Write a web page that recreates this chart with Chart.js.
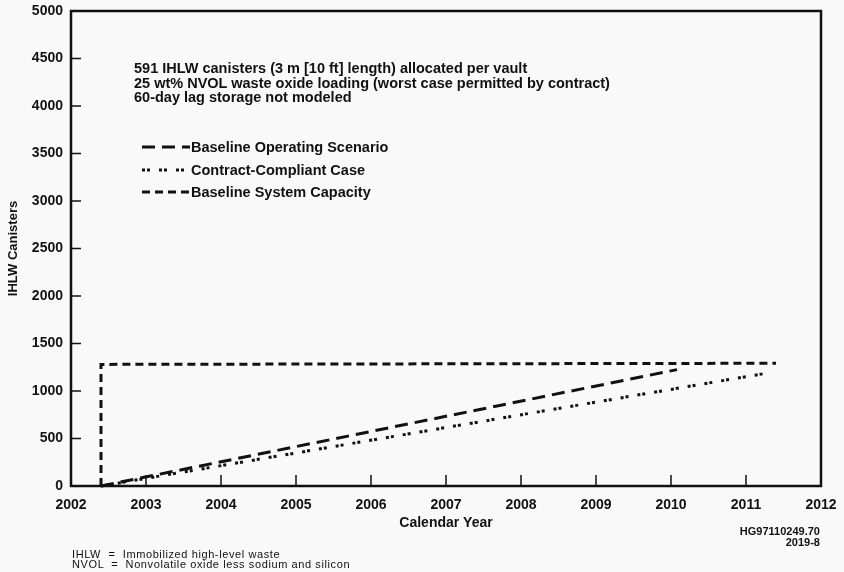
<!DOCTYPE html>
<html>
<head>
<meta charset="utf-8">
<title>IHLW Canisters vs Calendar Year</title>
<script src="https://cdn.jsdelivr.net/npm/chart.js@4.4.1/dist/chart.umd.min.js"></script>
<style>
  body { margin: 0; background: #f9f9f9; }
  #wrap { position: relative; width: 844px; height: 572px; font-family: 'Liberation Sans', Arial, sans-serif; color: #111; }
  #chart { position: absolute; left: 0; top: 0; }
  .notes { position: absolute; left: 134px; top: 61px; font-weight: bold; font-size: 14.5px; line-height: 14.5px; white-space: nowrap; }
  .legend { position: absolute; left: 142px; top: 136px; font-weight: bold; font-size: 14.5px; }
  .legend div { height: 22.5px; display: flex; align-items: center; white-space: nowrap; }
  .legend svg { width: 48px; height: 6px; margin-right: 1px; }
  .ref { position: absolute; right: 24px; top: 526px; font-weight: bold; font-size: 11px; line-height: 11px; text-align: right; }
  .abbr { position: absolute; left: 72px; top: 550px; font-size: 11px; letter-spacing: 0.6px; line-height: 9.5px; white-space: pre; }
</style>
</head>
<body>
<div id="wrap">
  <canvas id="chart" width="844" height="572"></canvas>

  <div class="notes">
    591 IHLW canisters (3 m [10 ft] length) allocated per vault<br>
    25 wt% NVOL waste oxide loading (worst case permitted by contract)<br>
    60-day lag storage not modeled
  </div>

  <div class="legend" id="legend"></div>

  <div class="ref">HG97110249.70<br>2019-8</div>

  <div class="abbr">IHLW  =  Immobilized high-level waste
NVOL  =  Nonvolatile oxide less sodium and silicon</div>
</div>

<script>
// --- Data ---

const xTickYears = [2002, 2003, 2004, 2005, 2006, 2007, 2008, 2009, 2010, 2011, 2012];
const yTickValues = [0, 500, 1000, 1500, 2000, 2500, 3000, 3500, 4000, 4500, 5000];

const operatingYears = [2002.4, 2010.08];
const operatingCanisters = [0, 1225];

const compliantYears = [2002.4, 2011.33];
const compliantCanisters = [0, 1195];

const capacityYears = [2002.4, 2002.4, 2011.4];
const capacityCanisters = [0, 1280, 1292];

const seriesNames = ['Baseline Operating Scenario', 'Contract-Compliant Case', 'Baseline System Capacity'];
const seriesDashes = [[13, 7], [3, 2, 3, 9], [8, 5]];

const INK = '#111';

function toPoints(xs, ys) {
    return xs.map((x, i) => ({ x: x, y: ys[i] }));
}

// --- Frame and inward tick marks ---

const frameAndTicks = {
    id: 'frameAndTicks',
    afterDatasetsDraw(chart) {
        const { ctx, chartArea: a, scales: { x, y } } = chart;
        ctx.save();
        ctx.strokeStyle = INK;
        ctx.lineWidth = 1.5;
        ctx.beginPath();
        x.ticks.forEach(t => {
            if (t.value <= x.min || t.value >= x.max) return;
            const px = x.getPixelForValue(t.value);
            ctx.moveTo(px, a.bottom);
            ctx.lineTo(px, a.bottom - 11);
        });
        y.ticks.forEach(t => {
            if (t.value <= y.min || t.value >= y.max) return;
            const py = y.getPixelForValue(t.value);
            ctx.moveTo(a.left, py);
            ctx.lineTo(a.left + 10, py);
        });
        ctx.stroke();
        ctx.lineWidth = 2.5;
        ctx.strokeRect(a.left, a.top, a.right - a.left, a.bottom - a.top);
        ctx.restore();
    }
};

const tickFont = { family: "'Liberation Sans', Arial, sans-serif", size: 14, weight: 'bold' };

const chart = new Chart(document.getElementById('chart'), {
    type: 'line',
    data: {
        datasets: [
            { label: seriesNames[0], data: toPoints(operatingYears, operatingCanisters), borderDash: seriesDashes[0] },
            { label: seriesNames[1], data: toPoints(compliantYears, compliantCanisters), borderDash: seriesDashes[1] },
            { label: seriesNames[2], data: toPoints(capacityYears, capacityCanisters), borderDash: seriesDashes[2] }
        ].map(ds => Object.assign(ds, {
            borderColor: INK,
            borderWidth: 3,
            pointRadius: 0,
            fill: false,
            tension: 0,
            clip: false
        }))
    },
    options: {
        responsive: false,
        animation: false,
        devicePixelRatio: 1,
        layout: { padding: { top: 11, right: 23, left: 0, bottom: 0 } },
        scales: {
            x: {
                type: 'linear',
                min: 2002,
                max: 2012,
                afterBuildTicks: s => { s.ticks = xTickYears.map(v => ({ value: v })); },
                // fixed axis box; label overhang handled by layout padding
                afterFit: s => { s.height = 86; s.paddingLeft = 0; s.paddingRight = 0; },
                grid: { display: false, drawTicks: false },
                border: { display: false },
                ticks: {
                    color: INK,
                    font: tickFont,
                    padding: 11,
                    maxRotation: 0,
                    callback: v => String(v)
                },
                title: {
                    display: true,
                    text: 'Calendar Year',
                    color: INK,
                    font: { family: "'Liberation Sans', Arial, sans-serif", size: 14, weight: 'bold' },
                    padding: { top: 0, bottom: 40 }
                }
            },
            y: {
                min: 0,
                max: 5000,
                afterBuildTicks: s => { s.ticks = yTickValues.map(v => ({ value: v })); },
                afterFit: s => { s.width = 71; s.paddingTop = 0; s.paddingBottom = 0; },
                grid: { display: false, drawTicks: false },
                border: { display: false },
                ticks: {
                    color: INK,
                    font: tickFont,
                    padding: 8,
                    callback: v => String(v)
                },
                title: {
                    display: true,
                    text: 'IHLW Canisters',
                    color: INK,
                    font: { family: "'Liberation Sans', Arial, sans-serif", size: 13, weight: 'bold' },
                    padding: { top: 6, bottom: 0 }
                }
            }
        },
        plugins: {
            legend: { display: false },
            tooltip: { enabled: false }
        }
    },
    plugins: [frameAndTicks]
});

// --- Legend built from the datasets ---

const legendBox = document.getElementById('legend');
chart.data.datasets.forEach(ds => {
    const row = document.createElement('div');
    const dash = ds.borderDash.join(' ');
    row.innerHTML = '<svg viewBox="0 0 48 6"><line x1="0" y1="3" x2="48" y2="3" stroke="' + INK +
        '" stroke-width="3" stroke-dasharray="' + dash + '"/></svg><span></span>';
    row.querySelector('span').textContent = ds.label;
    legendBox.appendChild(row);
});
</script>
</body>
</html>
